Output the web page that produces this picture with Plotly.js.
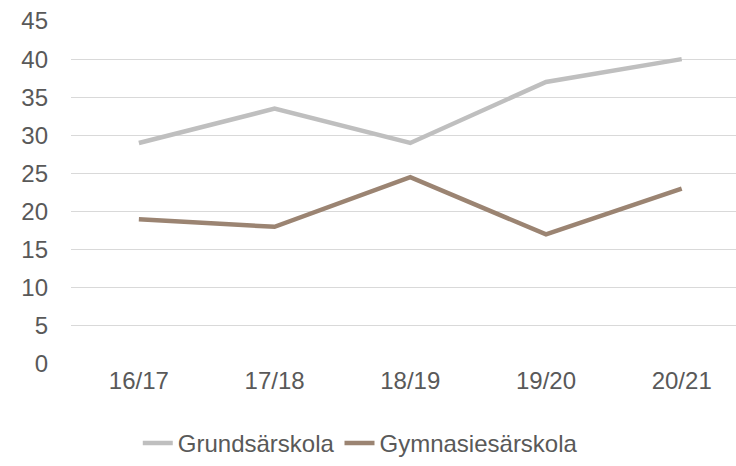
<!DOCTYPE html>
<html><head><meta charset="utf-8">
<script src="https://cdn.plot.ly/plotly-3.0.1.min.js"></script>
<style>body{margin:0;padding:0;background:#fff}#chart{width:736px;height:466px}</style>
</head><body><div id="chart"></div>
<script>
const categories = ["16/17", "17/18", "18/19", "19/20", "20/21"];
const grundsarskola = [29, 33.5, 29, 37, 40];
const gymnasiesarskola = [19, 18, 24.5, 17, 23];
const yTicks = [0, 5, 10, 15, 20, 25, 30, 35, 40, 45];

const data = [
  {x: categories, y: grundsarskola, name: "Grundsärskola", type: "scatter", mode: "lines",
   line: {color: "#BFBFBF", width: 4.5}},
  {x: categories, y: gymnasiesarskola, name: "Gymnasiesärskola", type: "scatter", mode: "lines",
   line: {color: "#9B8472", width: 4.5}}
];
const layout = {
  width: 736, height: 466,
  margin: {l: 71, r: 0, t: 21, b: 101},
  paper_bgcolor: "#fff", plot_bgcolor: "#fff",
  font: {family: "Liberation Sans, Arial, sans-serif", size: 24, color: "#595959"},
  showlegend: true,
  legend: {orientation: "h", x: 0.435, xanchor: "center", y: -0.233, yanchor: "middle",
           font: {size: 24, color: "#595959"}, itemwidth: 30, tracegroupgap: 0},
  xaxis: {type: "category", range: [-0.5, 4.4], showgrid: false, zeroline: false,
          showline: false, ticks: "", tickfont: {size: 24, color: "#595959"}},
  yaxis: {range: [0, 45], tickvals: yTicks, showgrid: true, gridcolor: "#D9D9D9", gridwidth: 1,
          zeroline: false, showline: false, ticks: "", ticklabelstandoff: 22,
          tickfont: {size: 24, color: "#595959"}}
};
Plotly.newPlot("chart", data, layout, {displayModeBar: false, staticPlot: true});
</script></body></html>
